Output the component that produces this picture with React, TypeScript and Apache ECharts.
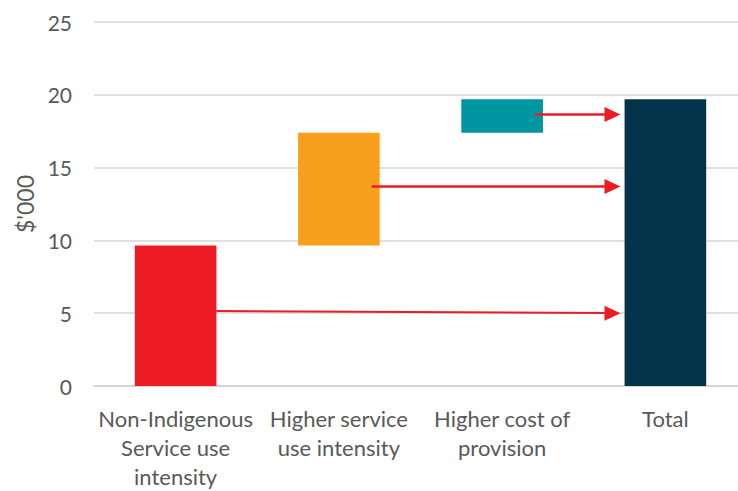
import React, { useEffect, useRef } from "react";
import * as echarts from "echarts";

const categories = [
  "Non-Indigenous\nService use\nintensity",
  "Higher service\nuse intensity",
  "Higher cost of\nprovision",
  "Total",
];
const increments = [9.65, 7.75, 2.3];
const totalValue = 19.7;
const barColors = ["#ED1C24", "#F7A01E", "#0096A1", "#033449"];
const yTicks = { min: 0, max: 25, interval: 5 };
const yTitle = "$'000";

// arrows: from category index, start value, end value (arrive at Total)
const arrowFrom = [0, 1, 2];
const arrowStartValues = [5.15, 13.7, 18.65];
const arrowEndValues = [5.0, 13.7, 18.65];

const bases: number[] = [];
const tops: number[] = [];
{
  let acc = 0;
  increments.forEach((v) => {
    bases.push(acc);
    tops.push(v);
    acc += v;
  });
  bases.push(0);
  tops.push(totalValue);
}

const FONT = "Lato";
const TEXT = "#595959";
const RED = "#ED1C24";
const startFrac = [0.25, 0.2, 0.2];

export default function App() {
  const ref = useRef<HTMLDivElement>(null);
  useEffect(() => {
    if (!ref.current) return;
    const chart = echarts.init(ref.current, undefined, { renderer: "svg" });
    const totalIndex = categories.length - 1;
    chart.setOption({
      animation: false,
      backgroundColor: "#ffffff",
      grid: { left: 94, top: 22, width: 653, height: 364, containLabel: false },
      xAxis: {
        type: "category",
        data: categories,
        axisLine: { show: true, lineStyle: { color: "#D0D0D0", width: 1.5 } },
        axisTick: { show: false },
        axisLabel: {
          color: TEXT,
          fontFamily: FONT,
          fontSize: 22,
          lineHeight: 29,
          margin: 18,
          interval: 0,
        },
      },
      yAxis: {
        type: "value",
        min: yTicks.min,
        max: yTicks.max,
        interval: yTicks.interval,
        name: yTitle,
        nameLocation: "middle",
        nameGap: 56,
        nameTextStyle: { color: TEXT, fontFamily: FONT, fontSize: 23 },
        axisLine: { show: false },
        axisTick: { show: false },
        splitLine: { lineStyle: { color: "#D6D6D6", width: 1.5 } },
        axisLabel: { color: TEXT, fontFamily: FONT, fontSize: 21, margin: 22 },
      },
      series: [
        {
          type: "bar",
          stack: "w",
          data: bases,
          barWidth: "50%",
          itemStyle: { color: "transparent" },
          silent: true,
        },
        {
          type: "bar",
          stack: "w",
          barWidth: "50%",
          data: tops.map((v, i) => ({ value: v, itemStyle: { color: barColors[i] } })),
        },
        {
          type: "custom",
          data: arrowFrom.map((c, i) => [c, arrowStartValues[i], arrowEndValues[i]]),
          encode: { x: 0, y: [1, 2] },
          z: 10,
          renderItem: (params: any, api: any) => {
            const idx = params.dataIndex;
            const band = api.size([1, 0])[0];
            const s = api.coord([api.value(0), api.value(1)]);
            const e = api.coord([totalIndex, api.value(2)]);
            const x1 = s[0] + band * startFrac[idx];
            const tipX = e[0] - band * 0.275;
            const headLen = 16;
            const headHalf = 7.5;
            const baseX = tipX - headLen;
            const yAtBase = s[1] + ((e[1] - s[1]) * (baseX - x1)) / (tipX - x1);
            return {
              type: "group",
              children: [
                {
                  type: "line",
                  shape: { x1, y1: s[1], x2: baseX + 1, y2: yAtBase },
                  style: { stroke: RED, lineWidth: idx === 0 ? 2 : 2.5 },
                },
                {
                  type: "polygon",
                  shape: {
                    points: [
                      [tipX, e[1]],
                      [baseX, e[1] - headHalf],
                      [baseX, e[1] + headHalf],
                    ],
                  },
                  style: { fill: RED },
                },
              ],
            };
          },
        },
      ],
    });
    return () => chart.dispose();
  }, []);
  return (
    <div style={{ width: 738, height: 491, position: "absolute", left: 0, top: 0, overflow: "hidden", background: "#fff" }}>
      <div ref={ref} style={{ width: 760, height: 491 }} />
    </div>
  );
}
